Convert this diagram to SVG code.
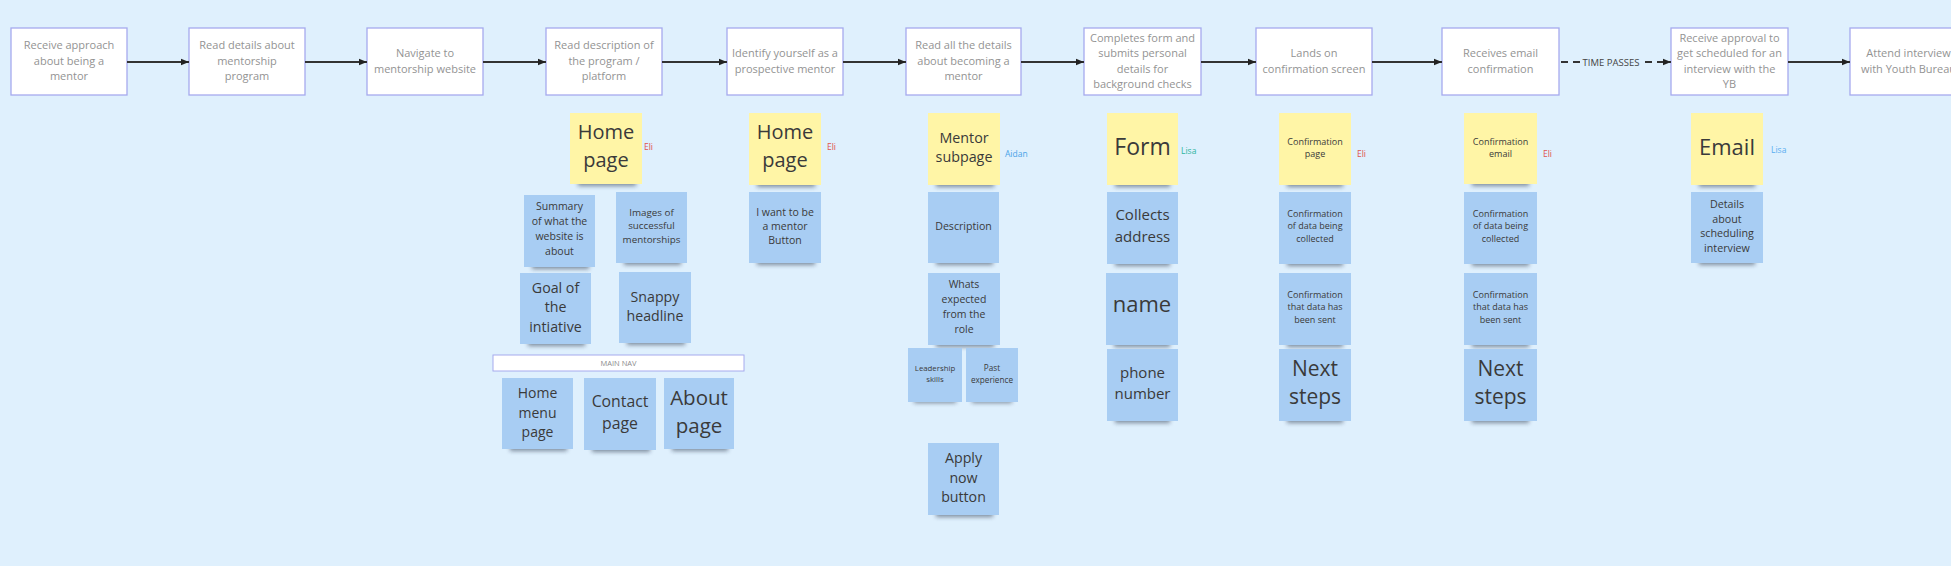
<svg xmlns="http://www.w3.org/2000/svg" width="1951" height="566" viewBox="0 0 1951 566">
<defs>
<marker id="ah" viewBox="0 0 10 10" refX="10" refY="5" markerWidth="8" markerHeight="8" orient="auto" markerUnits="userSpaceOnUse">
<path d="M0,1 L10,5 L0,9 z" fill="#222"/>
</marker>
<filter id="blur" x="-30%" y="-100%" width="160%" height="300%"><feGaussianBlur stdDeviation="2.2"/></filter>
</defs>
<style>
.bg{fill:#dff0fd}
.box{fill:#fff;stroke:#a6aaee;stroke-width:1.3}
.bt{font-family:"Open Sans","Liberation Sans",sans-serif;font-size:11px;fill:#939393;text-anchor:middle}
.ln{stroke:#333;stroke-width:2;fill:none}
.dash{stroke:#333;stroke-width:2;fill:none;stroke-dasharray:7 5}
.y{fill:#fff5a6}
.b{fill:#a8cdf3}
.sh{fill:#1a2a40;opacity:0.5;filter:url(#blur)}
.st{font-family:"Open Sans","Liberation Sans",sans-serif;fill:#3a3a3a;text-anchor:middle;dominant-baseline:central}
.au{font-family:"Open Sans","Liberation Sans",sans-serif;font-size:8.5px;dominant-baseline:central}
</style>
<rect class="bg" x="0" y="0" width="1951" height="566"/>

<!-- Process boxes -->
<g id="n1"><rect class="box" x="11" y="28" width="116" height="67"/><text class="bt" x="69" y="49">Receive approach</text><text class="bt" x="69" y="64.5">about being a</text><text class="bt" x="69" y="80">mentor</text></g>
<g id="n2"><rect class="box" x="189" y="28" width="116" height="67"/><text class="bt" x="247" y="49">Read details about</text><text class="bt" x="247" y="64.5">mentorship</text><text class="bt" x="247" y="80">program</text></g>
<g id="n3"><rect class="box" x="367" y="28" width="116" height="67"/><text class="bt" x="425" y="57">Navigate to</text><text class="bt" x="425" y="72.5">mentorship website</text></g>
<g id="n4"><rect class="box" x="546" y="28" width="116" height="67"/><text class="bt" x="604" y="49">Read description of</text><text class="bt" x="604" y="64.5">the program /</text><text class="bt" x="604" y="80">platform</text></g>
<g id="n5"><rect class="box" x="727" y="28" width="116" height="67"/><text class="bt" x="785" y="57">Identify yourself as a</text><text class="bt" x="785" y="72.5">prospective mentor</text></g>
<g id="n6"><rect class="box" x="906" y="28" width="115" height="67"/><text class="bt" x="963.5" y="49">Read all the details</text><text class="bt" x="963.5" y="64.5">about becoming a</text><text class="bt" x="963.5" y="80">mentor</text></g>
<g id="n7"><rect class="box" x="1084" y="28" width="117" height="67"/><text class="bt" x="1142.5" y="41.5">Completes form and</text><text class="bt" x="1142.5" y="57">submits personal</text><text class="bt" x="1142.5" y="72.5">details for</text><text class="bt" x="1142.5" y="88">background checks</text></g>
<g id="n8"><rect class="box" x="1256" y="28" width="116" height="67"/><text class="bt" x="1314" y="57">Lands on</text><text class="bt" x="1314" y="72.5">confirmation screen</text></g>
<g id="n9"><rect class="box" x="1442" y="28" width="117" height="67"/><text class="bt" x="1500.5" y="57">Receives email</text><text class="bt" x="1500.5" y="72.5">confirmation</text></g>
<g id="n10"><rect class="box" x="1671" y="28" width="117" height="67"/><text class="bt" x="1729.5" y="41.5">Receive approval to</text><text class="bt" x="1729.5" y="57">get scheduled for an</text><text class="bt" x="1729.5" y="72.5">interview with the</text><text class="bt" x="1729.5" y="88">YB</text></g>
<g id="n11"><rect class="box" x="1850" y="28" width="117" height="67"/><text class="bt" x="1908.5" y="57">Attend interview</text><text class="bt" x="1908.5" y="72.5">with Youth Bureau</text></g>

<!-- Connectors -->
<g id="connectors">
<line class="ln" x1="127" y1="62" x2="189" y2="62" marker-end="url(#ah)"/>
<line class="ln" x1="305" y1="62" x2="367" y2="62" marker-end="url(#ah)"/>
<line class="ln" x1="483" y1="62" x2="546" y2="62" marker-end="url(#ah)"/>
<line class="ln" x1="662" y1="62" x2="727" y2="62" marker-end="url(#ah)"/>
<line class="ln" x1="843" y1="62" x2="906" y2="62" marker-end="url(#ah)"/>
<line class="ln" x1="1021" y1="62" x2="1084" y2="62" marker-end="url(#ah)"/>
<line class="ln" x1="1201" y1="62" x2="1256" y2="62" marker-end="url(#ah)"/>
<line class="ln" x1="1372" y1="62" x2="1442" y2="62" marker-end="url(#ah)"/>
<line class="dash" x1="1561" y1="62" x2="1580" y2="62"/>
<line class="dash" x1="1645" y1="62" x2="1671" y2="62" marker-end="url(#ah)"/>
<text x="1611" y="62" font-family="'Open Sans','Liberation Sans',sans-serif" font-size="9.5" fill="#444" text-anchor="middle" dominant-baseline="central">TIME PASSES</text>
<line class="ln" x1="1788" y1="62" x2="1850" y2="62" marker-end="url(#ah)"/>
</g>

<!-- Column under "Read description" -->
<g id="s-home1"><rect class="sh" x="578" y="178" width="58" height="8"/><rect class="y" x="570" y="113" width="72" height="71"/><text class="st" font-size="20" x="606" y="131.5">Home</text><text class="st" font-size="20" x="606" y="159">page</text><text class="au" x="644" y="146" fill="#e0524f">Eli</text></g>
<g id="s-summary"><rect class="sh" x="532" y="261" width="57" height="8"/><rect class="b" x="524" y="195" width="71" height="72"/><text class="st" font-size="10.5" x="559.5" y="206">Summary</text><text class="st" font-size="10.5" x="559.5" y="221">of what the</text><text class="st" font-size="10.5" x="559.5" y="236">website is</text><text class="st" font-size="10.5" x="559.5" y="251">about</text></g>
<g id="s-images"><rect class="sh" x="624" y="257" width="57" height="8"/><rect class="b" x="616" y="192" width="71" height="71"/><text class="st" font-size="9.8" x="651.5" y="212">Images of</text><text class="st" font-size="9.8" x="651.5" y="225.5">successful</text><text class="st" font-size="9.8" x="651.5" y="239">mentorships</text></g>
<g id="s-goal"><rect class="sh" x="528" y="338" width="57" height="8"/><rect class="b" x="520" y="273" width="71" height="71"/><text class="st" font-size="14.2" x="555.5" y="287">Goal of</text><text class="st" font-size="14.2" x="555.5" y="306.5">the</text><text class="st" font-size="14.2" x="555.5" y="326">intiative</text></g>
<g id="s-snappy"><rect class="sh" x="627" y="337" width="58" height="8"/><rect class="b" x="619" y="272" width="72" height="71"/><text class="st" font-size="14.2" x="655" y="296">Snappy</text><text class="st" font-size="14.2" x="655" y="315">headline</text></g>
<g id="s-mainnav"><rect x="493" y="355" width="251" height="16" fill="#fff" stroke="#a6aaee" stroke-width="1"/><text x="618.5" y="363" font-family="'Open Sans','Liberation Sans',sans-serif" font-size="7.5" fill="#8c8c8c" text-anchor="middle" dominant-baseline="central">MAIN NAV</text></g>
<g id="s-homemenu"><rect class="sh" x="510" y="443" width="57" height="8"/><rect class="b" x="502" y="378" width="71" height="71"/><text class="st" font-size="14" x="537.5" y="392">Home</text><text class="st" font-size="14" x="537.5" y="412">menu</text><text class="st" font-size="14" x="537.5" y="431">page</text></g>
<g id="s-contact"><rect class="sh" x="592" y="444" width="58" height="8"/><rect class="b" x="584" y="378" width="72" height="72"/><text class="st" font-size="15.8" x="620" y="401">Contact</text><text class="st" font-size="15.8" x="620" y="423">page</text></g>
<g id="s-about"><rect class="sh" x="672" y="443" width="56" height="8"/><rect class="b" x="664" y="378" width="70" height="71"/><text class="st" font-size="20.5" x="699" y="397">About</text><text class="st" font-size="20.5" x="699" y="425">page</text></g>

<!-- Column under "Identify yourself" -->
<g id="s-home2"><rect class="sh" x="757" y="179" width="58" height="8"/><rect class="y" x="749" y="113" width="72" height="72"/><text class="st" font-size="20" x="785" y="131.5">Home</text><text class="st" font-size="20" x="785" y="159">page</text><text class="au" x="827" y="146" fill="#e0524f">Eli</text></g>
<g id="s-iwant"><rect class="sh" x="757" y="257" width="58" height="8"/><rect class="b" x="749" y="192" width="72" height="71"/><text class="st" font-size="10.5" x="785" y="211.5">I want to be</text><text class="st" font-size="10.5" x="785" y="225.5">a mentor</text><text class="st" font-size="10.5" x="785" y="240">Button</text></g>

<!-- Column under "Read all the details" -->
<g id="s-mentor"><rect class="sh" x="936" y="179" width="58" height="8"/><rect class="y" x="928" y="113" width="72" height="72"/><text class="st" font-size="14.3" x="964" y="137">Mentor</text><text class="st" font-size="14.3" x="964" y="156.5">subpage</text><text class="au" x="1005" y="153" fill="#4aa3e8">Aidan</text></g>
<g id="s-desc"><rect class="sh" x="936" y="257" width="57" height="8"/><rect class="b" x="928" y="192" width="71" height="71"/><text class="st" font-size="10.6" x="963.5" y="226">Description</text></g>
<g id="s-whats"><rect class="sh" x="936" y="339" width="58" height="8"/><rect class="b" x="928" y="273" width="72" height="72"/><text class="st" font-size="10.5" x="964" y="284">Whats</text><text class="st" font-size="10.5" x="964" y="299">expected</text><text class="st" font-size="10.5" x="964" y="314">from the</text><text class="st" font-size="10.5" x="964" y="329">role</text></g>
<g id="s-lead"><rect class="sh" x="914" y="396" width="42" height="7"/><rect class="b" x="908" y="348" width="54" height="54"/><text class="st" font-size="7.8" x="935" y="367.5">Leadership</text><text class="st" font-size="7.8" x="935" y="379">skills</text></g>
<g id="s-past"><rect class="sh" x="972" y="396" width="40" height="7"/><rect class="b" x="966" y="348" width="52" height="54"/><text class="st" font-size="8.2" x="992" y="367.5">Past</text><text class="st" font-size="8.2" x="992" y="379">experience</text></g>
<g id="s-apply"><rect class="sh" x="936" y="509" width="57" height="8"/><rect class="b" x="928" y="443" width="71" height="72"/><text class="st" font-size="14.2" x="963.5" y="457">Apply</text><text class="st" font-size="14.2" x="963.5" y="477">now</text><text class="st" font-size="14.2" x="963.5" y="496">button</text></g>

<!-- Column under "Completes form" -->
<g id="s-form"><rect class="sh" x="1115" y="179" width="55" height="8"/><rect class="y" x="1107" y="113" width="71" height="72"/><text class="st" font-size="23" x="1142.5" y="146" fill="#222">Form</text><text class="au" x="1181" y="150" fill="#2fb5a0">Lisa</text></g>
<g id="s-collects"><rect class="sh" x="1115" y="258" width="55" height="8"/><rect class="b" x="1107" y="192" width="71" height="72"/><text class="st" font-size="15" x="1142.5" y="214">Collects</text><text class="st" font-size="15" x="1142.5" y="235.5">address</text></g>
<g id="s-name"><rect class="sh" x="1114" y="339" width="56" height="8"/><rect class="b" x="1106" y="273" width="72" height="72"/><text class="st" font-size="22" x="1142" y="303" fill="#222">name</text></g>
<g id="s-phone"><rect class="sh" x="1115" y="415" width="55" height="8"/><rect class="b" x="1107" y="349" width="71" height="72"/><text class="st" font-size="15" x="1142.5" y="372">phone</text><text class="st" font-size="15" x="1142.5" y="393">number</text></g>

<!-- Column under "Lands on confirmation screen" -->
<g id="s-confpage"><rect class="sh" x="1287" y="179" width="56" height="8"/><rect class="y" x="1279" y="113" width="72" height="72"/><text class="st" font-size="9" x="1315" y="141">Confirmation</text><text class="st" font-size="9" x="1315" y="153">page</text><text class="au" x="1357" y="153" fill="#e0524f">Eli</text></g>
<g id="s-conf1a"><rect class="sh" x="1287" y="258" width="56" height="8"/><rect class="b" x="1279" y="192" width="72" height="72"/><text class="st" font-size="9" x="1315" y="213">Confirmation</text><text class="st" font-size="9" x="1315" y="225.5">of data being</text><text class="st" font-size="9" x="1315" y="238">collected</text></g>
<g id="s-conf2a"><rect class="sh" x="1287" y="339" width="56" height="8"/><rect class="b" x="1279" y="273" width="72" height="72"/><text class="st" font-size="9" x="1315" y="294">Confirmation</text><text class="st" font-size="9" x="1315" y="306.5">that data has</text><text class="st" font-size="9" x="1315" y="319">been sent</text></g>
<g id="s-next1"><rect class="sh" x="1287" y="415" width="56" height="8"/><rect class="b" x="1279" y="349" width="72" height="72"/><text class="st" font-size="21" x="1315" y="368" fill="#222">Next</text><text class="st" font-size="21" x="1315" y="396" fill="#222">steps</text></g>

<!-- Column under "Receives email confirmation" -->
<g id="s-confemail"><rect class="sh" x="1472" y="178" width="57" height="8"/><rect class="y" x="1464" y="113" width="73" height="71"/><text class="st" font-size="9" x="1500.5" y="141">Confirmation</text><text class="st" font-size="9" x="1500.5" y="153">email</text><text class="au" x="1543" y="153" fill="#e0524f">Eli</text></g>
<g id="s-conf1b"><rect class="sh" x="1472" y="258" width="57" height="8"/><rect class="b" x="1464" y="192" width="73" height="72"/><text class="st" font-size="9" x="1500.5" y="213">Confirmation</text><text class="st" font-size="9" x="1500.5" y="225.5">of data being</text><text class="st" font-size="9" x="1500.5" y="238">collected</text></g>
<g id="s-conf2b"><rect class="sh" x="1472" y="339" width="57" height="8"/><rect class="b" x="1464" y="273" width="73" height="72"/><text class="st" font-size="9" x="1500.5" y="294">Confirmation</text><text class="st" font-size="9" x="1500.5" y="306.5">that data has</text><text class="st" font-size="9" x="1500.5" y="319">been sent</text></g>
<g id="s-next2"><rect class="sh" x="1472" y="415" width="57" height="8"/><rect class="b" x="1464" y="349" width="73" height="72"/><text class="st" font-size="21" x="1500.5" y="368" fill="#222">Next</text><text class="st" font-size="21" x="1500.5" y="396" fill="#222">steps</text></g>

<!-- Column under "Receive approval" -->
<g id="s-email"><rect class="sh" x="1699" y="179" width="56" height="8"/><rect class="y" x="1691" y="113" width="72" height="72"/><text class="st" font-size="22" x="1727" y="146" fill="#222">Email</text><text class="au" x="1771" y="149" fill="#5aaef0">Lisa</text></g>
<g id="s-details"><rect class="sh" x="1699" y="257" width="56" height="8"/><rect class="b" x="1691" y="192" width="72" height="71"/><text class="st" font-size="10.7" x="1727" y="204">Details</text><text class="st" font-size="10.7" x="1727" y="218.5">about</text><text class="st" font-size="10.7" x="1727" y="233">scheduling</text><text class="st" font-size="10.7" x="1727" y="247.5">interview</text></g>
</svg>
